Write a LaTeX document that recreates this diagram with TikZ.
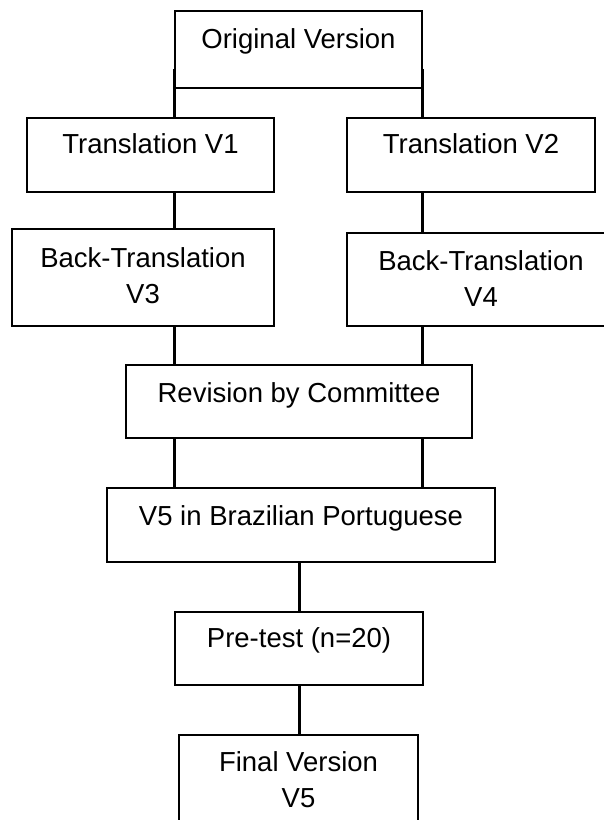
\documentclass[tikz,border=0pt]{standalone}
\usepackage{fontspec}
\setmainfont{Liberation Sans}

\begin{document}
\begin{tikzpicture}[x=1pt,y=-1pt,
	box/.style={draw,line width=1.8pt,inner sep=0pt,anchor=north,align=center,
		font=\fontsize{27.5}{36}\selectfont,text height=37pt,text depth=37pt},
	link/.style={line width=3pt}]
	\useasboundingbox (0,0) rectangle (603,820);
	%% boxes
	\node[box,minimum width=247pt,text height=37.5pt,text depth=39.5pt] (orig) at (298.5,10) {Original Version};
	\node[box,minimum width=247pt,text height=35.5pt,text depth=38.5pt] (tr1) at (150.5,117) {Translation V1};
	\node[box,minimum width=248pt,text height=35.5pt,text depth=38.5pt] (tr2) at (471,117) {Translation V2};
	\node[box,minimum width=262pt,text height=74.5pt,text depth=22.5pt] (bt3) at (143,228) {Back-Translation\\V3};
	\node[box,minimum width=268pt,text height=73.5pt,text depth=19.5pt] (bt4) at (481,232) {Back-Translation\\V4};
	\node[box,minimum width=346pt,text height=37.5pt,text depth=35.5pt] (rev) at (299,364) {Revision by Committee};
	\node[box,minimum width=388pt,text height=37.5pt,text depth=36.5pt] (v5) at (301,487) {V5 in Brazilian Portuguese};
	\node[box,minimum width=248pt,text height=35.5pt,text depth=37.5pt] (pre) at (299,611) {Pre-test (n=20)};
	\node[box,minimum width=239pt,text height=72.5pt,text depth=27.5pt] (fin) at (298.5,734) {Final Version\\V5};
	%% connectors
	\draw[link] ([yshift=20pt]orig.south west) -- (orig.south west |- tr1.north);
	\draw[link] ([yshift=20pt]orig.south east) -- (orig.south east |- tr2.north);
	\draw[link] (orig.south west |- tr1.south) -- (orig.south west |- bt3.north);
	\draw[link] (orig.south east |- tr2.south) -- (orig.south east |- bt4.north);
	\draw[link] (orig.south west |- bt3.south) -- (orig.south west |- rev.north);
	\draw[link] (orig.south east |- bt4.south) -- (orig.south east |- rev.north);
	\draw[link] (orig.south west |- rev.south) -- (orig.south west |- v5.north);
	\draw[link] (orig.south east |- rev.south) -- (orig.south east |- v5.north);
	\draw[link] (pre.north |- v5.south) -- (pre.north);
	\draw[link] (pre.south) -- (pre.south |- fin.north);
\end{tikzpicture}
\end{document}
